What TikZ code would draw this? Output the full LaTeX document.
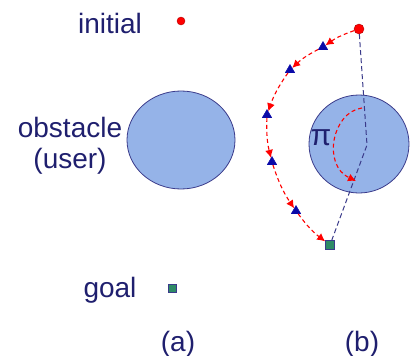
\documentclass[tikz,border=0pt]{standalone}
\usepackage{fontspec}
\setmainfont{Liberation Sans}
\usetikzlibrary{arrows.meta,shapes.geometric}
\definecolor{navy}{HTML}{1F1F6E}
\definecolor{obsfill}{HTML}{95B3E8}
\definecolor{obsline}{HTML}{3A3A8A}
\definecolor{goalgreen}{HTML}{2E8B66}
\definecolor{tri}{HTML}{0A0AA8}
\tikzset{
  lbl/.style={text=navy, font=\fontsize{28}{30}\selectfont, inner sep=0pt, anchor=base},
  obst/.style={ellipse, draw=obsline, line width=0.8pt, fill=obsfill, inner sep=0pt},
  startdot/.style={circle, fill=red, draw=red!70!black, line width=0.4pt, inner sep=0pt, minimum size=#1},
  goalbox/.style={rectangle, fill=goalgreen, draw=obsline, line width=0.7pt, inner sep=0pt, minimum size=#1},
  wp/.style={regular polygon, regular polygon sides=3, fill=tri, draw=tri, inner sep=0pt, minimum size=11pt},
  redarrow/.style={red, line width=1.1pt, dash pattern=on 4pt off 3pt, -{Latex[length=8pt,width=8pt]}},
  bluedash/.style={obsline, line width=1pt, dash pattern=on 5pt off 3pt}
}
\begin{document}
\begin{tikzpicture}[x=1pt,y=-1pt]
\useasboundingbox (0,0) rectangle (410,356);
% (a)
\node[lbl] (tinit) at (110,34) {initial};
\node[startdot=8pt] (s1) at (181,21) {};
\node[obst, minimum width=108pt, minimum height=98pt] (o1) at (181,140) {};
\node[lbl] (tobs) at (70,137) {obstacle};
\node[lbl] (tuser) at (70,168) {(user)};
\node[lbl] (tgoal) at (110,297) {goal};
\node[goalbox=8pt] (g1) at (172,288) {};
\node[lbl] (ta) at (178,351) {(a)};
% (b)
\node[obst, minimum width=100pt, minimum height=98pt] (o2) at (359,144) {};
\node[startdot=10pt] (s2) at (359,29) {};
\node[goalbox=9pt] (g2) at (330,245) {};
\node[wp] (w1) at (323,47) {};
\node[wp] (w2) at (290,70) {};
\node[wp] (w3) at (267,115) {};
\node[wp] (w4) at (272,162) {};
\node[wp] (w5) at (296,211) {};
\coordinate (bend) at (367,145);
\draw[bluedash] (s2) -- (bend) -- (g2);
\coordinate (pa) at (362,108);
\coordinate (pb) at (356,181);
\draw[redarrow] (pa) .. controls (332,112) and (322,165) .. (pb);
\draw[redarrow] (s2) to[bend right=8] (w1);
\draw[redarrow] (w1) to[bend right=8] (w2);
\draw[redarrow] (w2) to[bend right=8] (w3);
\draw[redarrow] (w3) to[bend right=8] (w4);
\draw[redarrow] (w4) to[bend right=8] (w5);
\draw[redarrow] (w5) to[bend right=8] (g2);
\node[text=navy, font=\fontsize{30}{32}\selectfont, inner sep=0pt] (pi) at (321,138) {π};
\node[lbl] (tb) at (362,351) {(b)};
\end{tikzpicture}
\end{document}
